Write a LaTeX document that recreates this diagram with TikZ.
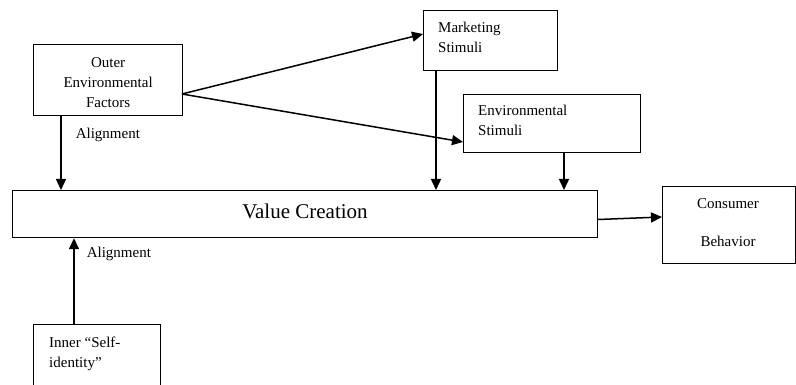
\documentclass[tikz,border=0pt]{standalone}
\usepackage{fontspec}
\setmainfont{Liberation Serif}
\usetikzlibrary{arrows.meta}
\begin{document}
\begin{tikzpicture}[x=1pt,y=-1pt,
  box/.style={draw, line width=1.2pt, inner sep=0pt, anchor=north west},
  txt/.style={font=\fontsize{15}{20}\selectfont, inner sep=0pt},
  arr/.style={line width=1.5pt, -{Triangle[length=11pt,width=10pt]}}]
\useasboundingbox (0,0) rectangle (796,385);
\begin{scope}
\clip (0,0) rectangle (796,385);
% boxes
\node[box, minimum width=149, minimum height=71] (outer) at (33,44) {};
\node[box, minimum width=134, minimum height=60] (mkt) at (423,10) {};
\node[box, minimum width=177, minimum height=58] (env) at (463,94) {};
\node[box, minimum width=585, minimum height=47] (value) at (12,190) {};
\node[box, minimum width=133, minimum height=77] (cons) at (662,186) {};
\node[box, minimum width=127, minimum height=80] (inner) at (33,324) {};
\end{scope}
% texts
\node[txt, align=center] (outerT) at ([yshift=-3pt]outer.center) {Outer\\Environmental\\Factors};
\node[txt, align=left, anchor=north west] (mktT) at (438,22) {Marketing\\Stimuli};
\node[txt, align=left, anchor=north west] (envT) at (478,105) {Environmental\\Stimuli};
\node[txt, font=\fontsize{21}{24}\selectfont] (valueT) at (305,211) {Value Creation};
\node[txt, align=center] (consT1) at (728,204) {Consumer};
\node[txt, align=center] (consT2) at (728,241) {Behavior};
\node[txt, align=left, anchor=north west] (innerT) at (49,337) {Inner “Self-\\identity”};
% connectors
\coordinate (oR) at (182,94);
\draw[arr] (oR) -- (mkt.west |- 0,34);
\draw[arr] (oR) -- (env.west |- 0,142);
\draw[arr] (outer.south -| 61,0) -- (value.north -| 61,0)
  node[txt, pos=0.25, right=14pt] (al1) {Alignment};
\draw[arr] (mkt.south -| 436,0) -- (value.north -| 436,0);
\draw[arr] (env.south -| 564,0) -- (value.north -| 564,0);
\draw[arr] (inner.north -| 74,0) -- (value.south -| 74,0)
  node[txt, pos=0.82, right=12pt] (al2) {Alignment};
\draw[arr] (value.east |- 0,219.5) -- (cons.west |- 0,217);
\end{tikzpicture}
\end{document}
